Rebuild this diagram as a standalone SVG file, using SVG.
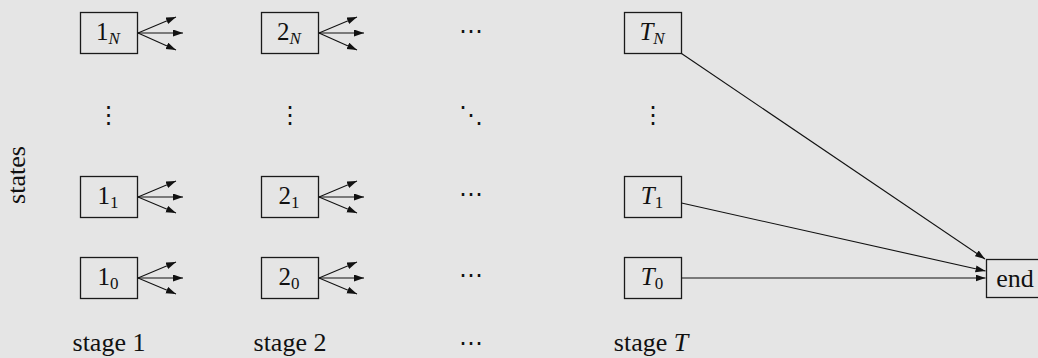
<svg xmlns="http://www.w3.org/2000/svg" width="1038" height="358" viewBox="0 0 1038 358">
<style>
.box{fill:none;stroke:#1a1a1a;stroke-width:1.3}
.lbl{font-family:"Liberation Serif",serif;font-size:25px;fill:#111;text-anchor:middle}
.sub{font-size:17px}
.it{font-style:italic}
.dots{font-family:"DejaVu Sans",sans-serif;font-size:24px;fill:#111;text-anchor:middle}
.edge{fill:none;stroke:#111;stroke-width:1.1;marker-end:url(#ah)}
</style>
<defs>
<marker id="ah" markerUnits="userSpaceOnUse" markerWidth="11" markerHeight="8" refX="10" refY="3.5" orient="auto">
<path d="M0,0 L10,3.5 L0,7 z" fill="#111"/>
</marker>
</defs>
<rect width="1038" height="358" fill="#e5e5e5"/>

<g id="n1N"><rect class="box" x="80.5" y="12.5" width="57" height="41"/><text class="lbl" x="108" y="40">1<tspan class="sub it" dy="3.5">N</tspan></text></g>
<g id="n11"><rect class="box" x="80.5" y="176.5" width="57" height="41"/><text class="lbl" x="108" y="204">1<tspan class="sub" dy="3.5">1</tspan></text></g>
<g id="n10"><rect class="box" x="80.5" y="257.5" width="57" height="41"/><text class="lbl" x="108" y="285">1<tspan class="sub" dy="3.5">0</tspan></text></g>
<g id="n2N"><rect class="box" x="261.5" y="12.5" width="57" height="41"/><text class="lbl" x="289" y="40">2<tspan class="sub it" dy="3.5">N</tspan></text></g>
<g id="n21"><rect class="box" x="261.5" y="176.5" width="57" height="41"/><text class="lbl" x="289" y="204">2<tspan class="sub" dy="3.5">1</tspan></text></g>
<g id="n20"><rect class="box" x="261.5" y="257.5" width="57" height="41"/><text class="lbl" x="289" y="285">2<tspan class="sub" dy="3.5">0</tspan></text></g>
<g id="nTN"><rect class="box" x="624.5" y="12.5" width="57" height="41"/><text class="lbl" x="652" y="40"><tspan class="it">T</tspan><tspan class="sub it" dy="3.5">N</tspan></text></g>
<g id="nT1"><rect class="box" x="624.5" y="176.5" width="57" height="41"/><text class="lbl" x="652" y="204"><tspan class="it">T</tspan><tspan class="sub" dy="3.5">1</tspan></text></g>
<g id="nT0"><rect class="box" x="624.5" y="257.5" width="57" height="41"/><text class="lbl" x="652" y="285"><tspan class="it">T</tspan><tspan class="sub" dy="3.5">0</tspan></text></g>
<g id="end"><rect class="box" x="986.5" y="259.5" width="60" height="38"/><text class="lbl" x="1015" y="287" style="font-size:26px">end</text></g>

<g id="ellipses">
<text class="dots" x="471" y="39">⋯</text>
<text class="dots" x="471" y="202">⋯</text>
<text class="dots" x="471" y="283">⋯</text>
<text class="dots" x="471" y="351">⋯</text>
<text class="dots" x="108.5" y="123">⋮</text>
<text class="dots" x="290" y="123">⋮</text>
<text class="dots" x="653" y="123">⋮</text>
<text class="dots" x="471" y="123">⋱</text>
</g>

<g id="labels">
<text class="lbl" x="25" y="175" transform="rotate(-90 25 175)" style="font-size:26px" dy="0">states</text>
<text class="lbl" x="109" y="351" style="font-size:26px">stage 1</text>
<text class="lbl" x="290" y="351" style="font-size:26px">stage 2</text>
<text class="lbl" x="651" y="351" style="font-size:26px">stage <tspan class="it">T</tspan></text>
</g>

<g id="connectors">
<path class="edge" d="M138,33 L176,17"/><path class="edge" d="M138,33 L183,33"/><path class="edge" d="M138,33 L176,50"/>
<path class="edge" d="M138,197 L176,181"/><path class="edge" d="M138,197 L183,197"/><path class="edge" d="M138,197 L176,213"/>
<path class="edge" d="M138,278 L176,262"/><path class="edge" d="M138,278 L183,278"/><path class="edge" d="M138,278 L176,294"/>
<path class="edge" d="M319,33 L357,17"/><path class="edge" d="M319,33 L364,33"/><path class="edge" d="M319,33 L357,50"/>
<path class="edge" d="M319,197 L357,181"/><path class="edge" d="M319,197 L364,197"/><path class="edge" d="M319,197 L357,213"/>
<path class="edge" d="M319,278 L357,262"/><path class="edge" d="M319,278 L364,278"/><path class="edge" d="M319,278 L357,294"/>
<path class="edge" d="M681.5,53.5 L985,259"/>
<path class="edge" d="M681.5,203 L985.5,271"/>
<path class="edge" d="M681.5,278 L985.5,278"/>
</g>
</svg>
